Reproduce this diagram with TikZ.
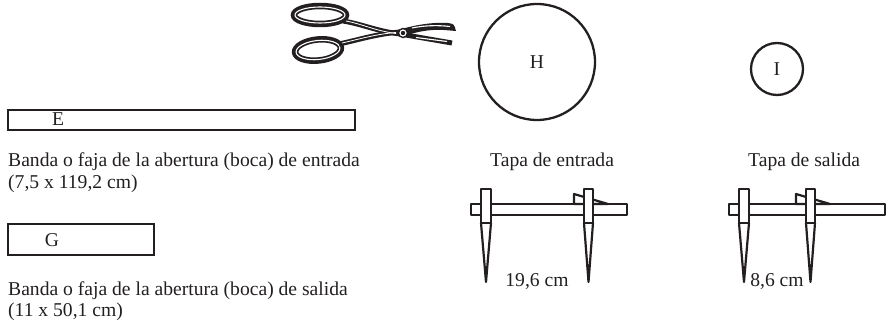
\documentclass[tikz,border=0pt]{standalone}
\usepackage{fontspec}
\setmainfont{Liberation Serif}
\usetikzlibrary{positioning}
\definecolor{ink}{HTML}{231F20}

\begin{document}
\begin{tikzpicture}[
        x=1pt, y=-1pt,
        every node/.style={text=ink, inner sep=0pt, font=\fontsize{19.6}{22}\selectfont},
        band/.style={draw=ink, line width=2.2pt},
        lid/.style={circle, draw=ink, line width=2.3pt},
        caption/.style={anchor=base west},
        part/.style={draw=ink, line width=2.2pt, fill=white, line join=round},
        ring/.style={draw=ink, line width=6.5pt},
        groove/.style={draw=white, line width=1.1pt},
    ]
    \useasboundingbox (0,0) rectangle (887,323);

    % Scissors
    \draw[ring] (320,15) ellipse [x radius=26, y radius=9];
    \draw[groove] (320,15) ellipse [x radius=25, y radius=8];
    \draw[ring, rotate around={6:(318,50)}] (318,50) ellipse [x radius=23, y radius=10.5];
    \draw[groove, rotate around={6:(318,50)}] (318,50) ellipse [x radius=22, y radius=9.5];
    \draw[ink, line width=5pt] (343,21) .. controls (362,24) and (376,31) .. (400,34) -- (452,43);
    \draw[ink, line width=5pt] (339,44) .. controls (358,40) and (376,34) .. (400,32);
    \draw[groove, line width=0.8pt] (346,21) .. controls (362,24) and (376,31) .. (396,33.5);
    \draw[groove, line width=0.8pt] (342,43) .. controls (358,39.5) and (376,34) .. (396,32.5);
    \fill[ink] (398,30) .. controls (415,25) and (432,22) .. (448,23) .. controls (454,24) .. (456,31)
        -- (444,30) .. controls (430,29) and (415,32) .. (405,36) -- cycle;
    \draw[groove] (412,28) .. controls (424,25.5) and (437,25) .. (450,26.5);
    \draw[groove] (416,37.5) -- (447,41.5);
    \filldraw[fill=white, draw=ink, line width=1.4pt] (403,33) circle (4.5);
    \fill[ink] (403,33) circle (2.2);

    % Bands
    \draw[band] (8,110) rectangle (355,130);
    \node[anchor=base] (E) at (58,126) {E};
    \node[caption] (bandaE) at (8,167) {Banda o faja de la abertura (boca) de entrada};
    \node[caption] (medidaE) at (8,189) {(7,5 x 119,2 cm)};

    \draw[band] (8,224) rectangle (154,255);
    \node[anchor=base] (G) at (52,247) {G};
    \node[caption] (bandaG) at (8,296) {Banda o faja de la abertura (boca) de salida};
    \node[caption] (medidaG) at (8,317) {(11 x 50,1 cm)};

    % Lids
    \node[lid, minimum size=116pt] (H) at (537,62) {H};
    \node[lid, minimum size=52pt] (I) at (777,69) {I};
    \node[caption] (tapaH) at (490,167) {Tapa de entrada};
    \node[caption] (tapaI) at (748,167) {Tapa de salida};

    % Calipers: name / left end of bar / offset of sliding jaw / reading
    \foreach \name/\x/\d/\len in {entrada/471/113/{19,6 cm}, salida/729/77/{8,6 cm}}
    {
        \draw[part] (\x,204) rectangle (\x+156,215);
        \draw[part] (\x+\d-10,204) -- ++(0,-10) -- (\x+\d+24,204) -- cycle;
        \draw[part] (\x+10,223) -- (\x+15,282) -- (\x+20,223);
        \draw[part] (\x+\d,223) -- (\x+\d+4.5,282) -- (\x+\d+9,223);
        \draw[part] (\x+10,189) rectangle (\x+20,223);
        \draw[part] (\x+\d,189) rectangle (\x+\d+9,223);
        \node[anchor=base] (medida-\name) at (\x+9.5+\d/2,287) {\len};
    }
\end{tikzpicture}
\end{document}
